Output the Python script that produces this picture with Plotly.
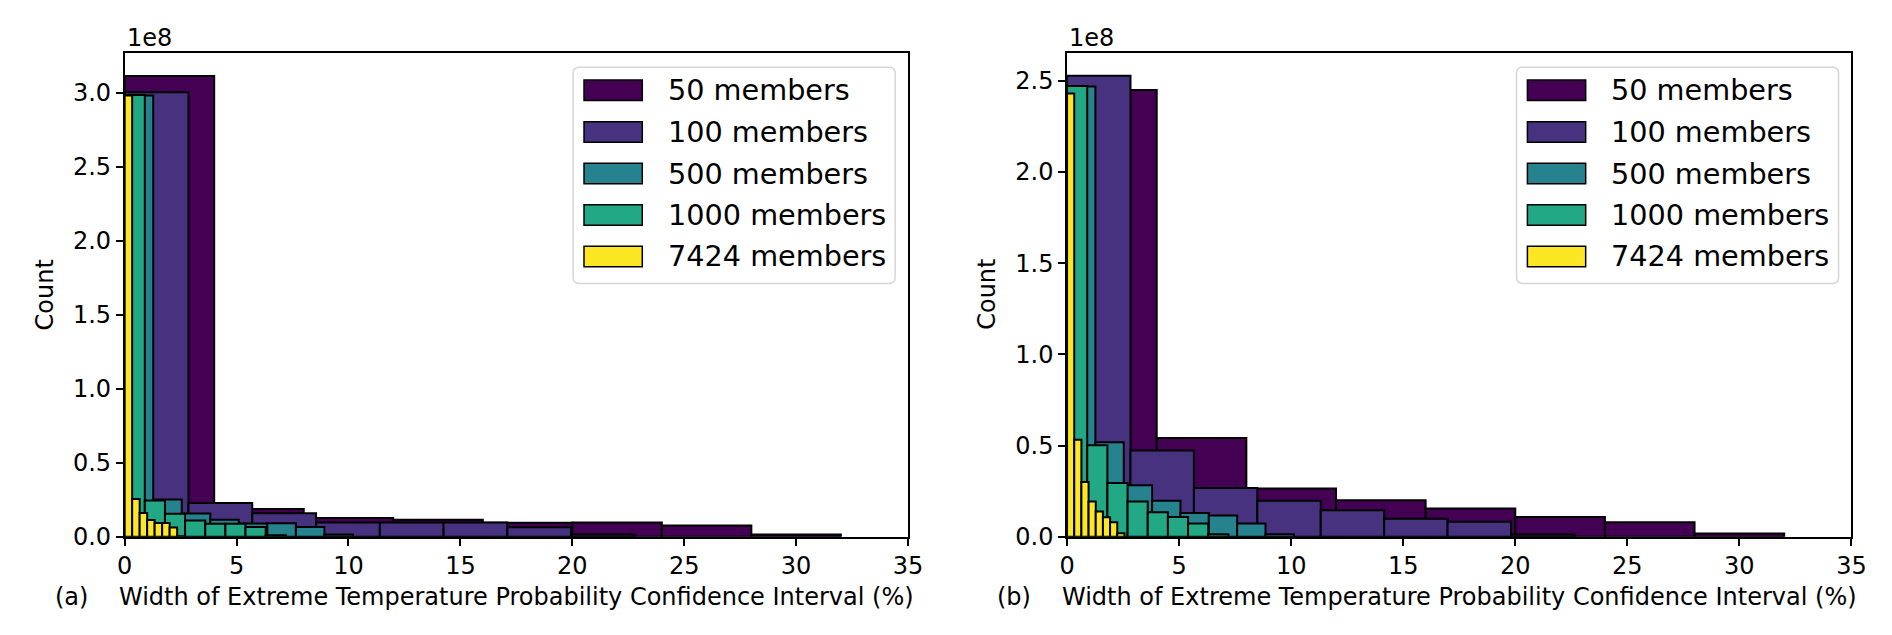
import plotly.graph_objects as go

W, H = 1892, 635

SERIES = ["50 members", "100 members", "500 members", "1000 members", "7424 members"]
COLORS = ["#440154", "#46327e", "#26828e", "#22a884", "#fde725"]

X_TICKS = [0, 5, 10, 15, 20, 25, 30, 35]
Y_TICKS_A = [0.0, 0.5, 1.0, 1.5, 2.0, 2.5, 3.0]
Y_TICKS_B = [0.0, 0.5, 1.0, 1.5, 2.0, 2.5]
SCALE = 1e8

# panel (a): bin widths (%) and counts per bin (x 1e8)
BIN_WIDTH_A = [4.0, 2.85, 1.275, 0.9, 0.335]
COUNTS_A_50 = [3.113, 0.188, 0.126, 0.115, 0.095, 0.097, 0.077, 0.016]
COUNTS_A_100 = [3.003, 0.229, 0.159, 0.097, 0.097, 0.097, 0.064, 0.016]
COUNTS_A_500 = [2.98, 0.251, 0.157, 0.115, 0.090, 0.092, 0.066, 0.016]
COUNTS_A_1000 = [2.985, 0.245, 0.155, 0.110, 0.088, 0.088, 0.066, 0.010]
COUNTS_A_7424 = [2.98, 0.256, 0.161, 0.113, 0.093, 0.093, 0.062, 0.004]

# panel (b)
BIN_WIDTH_B = [4.0, 2.83, 1.265, 0.9, 0.32]
COUNTS_B_50 = [2.45, 0.541, 0.264, 0.200, 0.155, 0.109, 0.080, 0.018]
COUNTS_B_100 = [2.528, 0.473, 0.268, 0.198, 0.145, 0.099, 0.082, 0.012]
COUNTS_B_500 = [2.468, 0.518, 0.282, 0.198, 0.130, 0.116, 0.073, 0.014]
COUNTS_B_1000 = [2.472, 0.502, 0.295, 0.193, 0.134, 0.109, 0.073, 0.014]
COUNTS_B_7424 = [2.43, 0.532, 0.300, 0.193, 0.139, 0.107, 0.080, 0.020]

X_TITLE = "Width of Extreme Temperature Probability Confidence Interval (%)"
Y_TITLE = "Count"
PANEL_LABELS = ["(a)", "(b)"]

FONT = "DejaVu Sans"

# layout in pixels
AX_TOP, AX_BOT = 45.7, 540.7
AX_X = [(110, 903), (1064, 1858)]


def px(x):
    return x / W


def py(y):
    return 1 - y / H


fig = go.Figure()

panels = [
    (BIN_WIDTH_A, [COUNTS_A_50, COUNTS_A_100, COUNTS_A_500, COUNTS_A_1000, COUNTS_A_7424], "x", "y"),
    (BIN_WIDTH_B, [COUNTS_B_50, COUNTS_B_100, COUNTS_B_500, COUNTS_B_1000, COUNTS_B_7424], "x2", "y2"),
]

for widths, counts, xa, ya in panels:
    for name, color, w, c in zip(SERIES, COLORS, widths, counts):
        centers = [(i + 0.5) * w for i in range(len(c))]
        fig.add_trace(go.Bar(
            x=centers, y=[v * SCALE for v in c], width=[w] * len(c),
            name=name, showlegend=False,
            marker=dict(color=color, line=dict(color="black", width=2)),
            opacity=1, xaxis=xa, yaxis=ya,
        ))

common_x = dict(range=[0, 35], tickvals=X_TICKS, ticktext=[str(t) for t in X_TICKS],
                ticks="outside", ticklen=7, tickwidth=1.5, tickcolor="black",
                showline=True, linecolor="black", linewidth=1.5, mirror=True,
                showgrid=False, zeroline=False,
                tickfont=dict(family=FONT, size=24, color="black"))


def yaxis_cfg(ticks, ymax):
    return dict(range=[0, ymax * SCALE], tickvals=[t * SCALE for t in ticks],
                ticktext=[f"{t:.1f}" for t in ticks],
                ticks="outside", ticklen=7, tickwidth=1.5, tickcolor="black",
                showline=True, linecolor="black", linewidth=1.5, mirror=True,
                showgrid=False, zeroline=False,
                tickfont=dict(family=FONT, size=24, color="black"))


ydom = [py(AX_BOT), py(AX_TOP)]
fig.update_layout(
    width=W, height=H, barmode="overlay",
    margin=dict(l=0, r=0, t=0, b=0),
    paper_bgcolor="white", plot_bgcolor="white",
    showlegend=False,
    font=dict(family=FONT, size=24, color="black"),
    xaxis=dict(domain=[px(AX_X[0][0]), px(AX_X[0][1])], anchor="y", **common_x),
    yaxis=dict(domain=ydom, anchor="x", **yaxis_cfg(Y_TICKS_A, 3.27)),
    xaxis2=dict(domain=[px(AX_X[1][0]), px(AX_X[1][1])], anchor="y2", **common_x),
    yaxis2=dict(domain=ydom, anchor="x2", **yaxis_cfg(Y_TICKS_B, 2.654)),
)

annotations = []
shapes = []
for k, (x0, x1) in enumerate(AX_X):
    cx = (x0 + x1) / 2
    # x title
    annotations.append(dict(x=px(cx), y=py(602), xref="paper", yref="paper", text=X_TITLE,
                            showarrow=False, xanchor="center", yanchor="middle",
                            font=dict(family=FONT, size=24, color="black")))
    # panel label
    annotations.append(dict(x=px(x0 - 73), y=py(602), xref="paper", yref="paper", text=PANEL_LABELS[k],
                            showarrow=False, xanchor="left", yanchor="middle",
                            font=dict(family=FONT, size=24, color="black")))
    # y title
    annotations.append(dict(x=px(x0 - 81), y=py((AX_TOP + AX_BOT) / 2), xref="paper", yref="paper",
                            text=Y_TITLE, textangle=-90, showarrow=False,
                            xanchor="center", yanchor="middle",
                            font=dict(family=FONT, size=24, color="black")))
    # offset text
    annotations.append(dict(x=px(x0), y=py(30.5), xref="paper", yref="paper", text="1e8",
                            showarrow=False, xanchor="left", yanchor="middle",
                            font=dict(family=FONT, size=24, color="black")))
    # legend frame (rounded)
    bx0, bx1 = x1 - 339, x1 - 13
    by0, by1 = 60.7, 281.7
    r = 6
    path = (f"M {px(bx0 + r)},{py(by0)} L {px(bx1 - r)},{py(by0)} Q {px(bx1)},{py(by0)} {px(bx1)},{py(by0 + r)} "
            f"L {px(bx1)},{py(by1 - r)} Q {px(bx1)},{py(by1)} {px(bx1 - r)},{py(by1)} "
            f"L {px(bx0 + r)},{py(by1)} Q {px(bx0)},{py(by1)} {px(bx0)},{py(by1 - r)} "
            f"L {px(bx0)},{py(by0 + r)} Q {px(bx0)},{py(by0)} {px(bx0 + r)},{py(by0)} Z")
    shapes.append(dict(type="path", path=path, xref="paper", yref="paper",
                       line=dict(color="#d6d6d6", width=1.5), fillcolor="rgba(255,255,255,0.8)", layer="above"))
    rows = [84, 126.7, 169.3, 211.7, 254]
    for name, color, yc in zip(SERIES, COLORS, rows):
        shapes.append(dict(type="rect", xref="paper", yref="paper",
                           x0=px(x1 - 328), x1=px(x1 - 269), y0=py(yc + 10.5), y1=py(yc - 10.5),
                           fillcolor=color, line=dict(color="black", width=1.5), layer="above"))
        annotations.append(dict(x=px(x1 - 245), y=py(yc), xref="paper", yref="paper", text=name,
                                showarrow=False, xanchor="left", yanchor="middle",
                                font=dict(family=FONT, size=28.7, color="black")))

fig.update_layout(annotations=annotations, shapes=shapes)
fig.write_html("out.html")
